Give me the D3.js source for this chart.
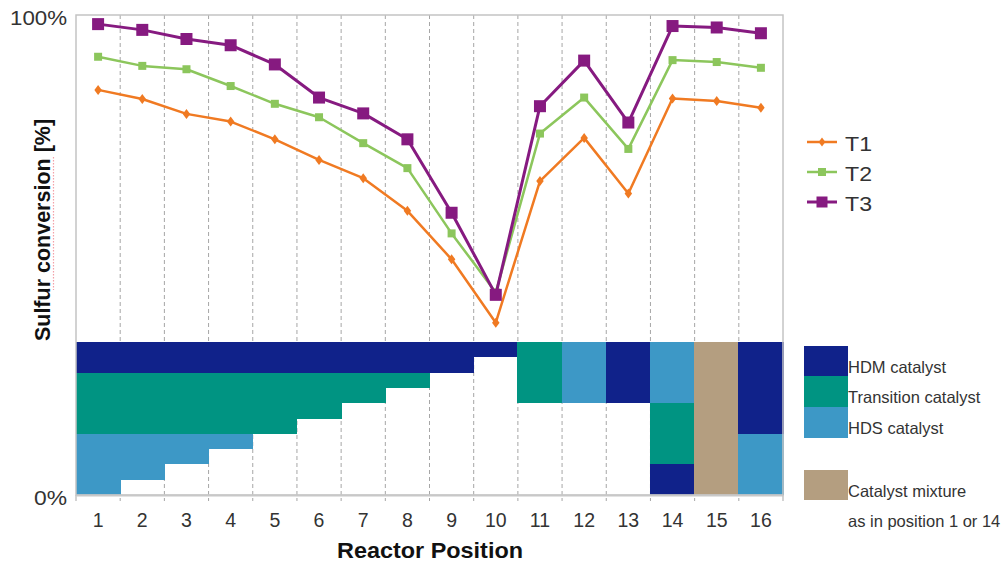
<!DOCTYPE html>
<html>
<head>
<meta charset="utf-8">
<script src="https://cdn.jsdelivr.net/npm/d3@7"></script>
<style>
  html, body { margin: 0; padding: 0; background: #fff; }
  svg { display: block; font-family: "Liberation Sans", Arial, sans-serif; }
</style>
</head>
<body>
<svg id="chart" width="1005" height="565"></svg>
<script>
// Reactor positions along the x axis
const positions = [1, 2, 3, 4, 5, 6, 7, 8, 9, 10, 11, 12, 13, 14, 15, 16];

// Sulfur conversion [%] per reactor position at three temperatures
const t1 = [84.4, 82.5, 79.4, 77.8, 74.1, 69.8, 66.0, 59.2, 49.1, 35.9, 65.4, 74.4, 62.8, 82.6, 82.1, 80.7];
const t2 = [91.3, 89.4, 88.7, 85.2, 81.5, 78.7, 73.3, 68.1, 54.5, 42.2, 75.3, 82.8, 72.1, 90.6, 90.2, 89.0];
const t3 = [98.1, 96.9, 95.0, 93.7, 89.7, 82.8, 79.5, 74.1, 58.8, 41.7, 81.0, 90.5, 77.6, 97.7, 97.4, 96.2];

const seriesNames = ["T1", "T2", "T3"];
const yTickLabels = ["0%", "100%"];

// Catalyst bed layers per position: [position, catalyst, bottom, top] in bed units (0 = reactor bottom, 5 = top)
const bedLayers = [
  [1, "HDS", 0, 2], [1, "Transition", 2, 4], [1, "HDM", 4, 5],
  [2, "HDS", 0.5, 2], [2, "Transition", 2, 4], [2, "HDM", 4, 5],
  [3, "HDS", 1, 2], [3, "Transition", 2, 4], [3, "HDM", 4, 5],
  [4, "HDS", 1.5, 2], [4, "Transition", 2, 4], [4, "HDM", 4, 5],
  [5, "Transition", 2, 4], [5, "HDM", 4, 5],
  [6, "Transition", 2.5, 4], [6, "HDM", 4, 5],
  [7, "Transition", 3, 4], [7, "HDM", 4, 5],
  [8, "Transition", 3.5, 4], [8, "HDM", 4, 5],
  [9, "HDM", 4, 5],
  [10, "HDM", 4.5, 5],
  [11, "Transition", 3, 5],
  [12, "HDS", 3, 5],
  [13, "HDM", 3, 5],
  [14, "HDM", 0, 1], [14, "Transition", 1, 3], [14, "HDS", 3, 5],
  [15, "Mixture", 0, 5],
  [16, "HDS", 0, 2], [16, "HDM", 2, 5]
];

const catalystNames = ["HDM", "Transition", "HDS", "Mixture"];
const catalystLabels = ["HDM catalyst", "Transition catalyst", "HDS catalyst", "Catalyst mixture"];

const svg = d3.select("#chart");

const plotLeft = 76, plotRight = 783, plotTop = 15, plotBottom = 495;

const x = d3.scaleBand().domain(positions).range([plotLeft, plotRight]).padding(0);
const y = d3.scaleLinear().domain([0, 100]).range([plotBottom, plotTop]);
const bedY = d3.scaleLinear().domain([0, 5]).range([plotBottom, 342]);

const lineColor = d3.scaleOrdinal().domain(seriesNames).range(["#f07a22", "#8cc65c", "#861a80"]);
const catColor = d3.scaleOrdinal().domain(catalystNames).range(["#10228a", "#009482", "#3d98c6", "#b49e80"]);

// Dashed vertical grid lines at position boundaries
const boundaries = positions.slice(1).map(p => x(p));
svg.append("g")
  .selectAll("line")
  .data(boundaries)
  .join("line")
  .attr("x1", d => d).attr("x2", d => d)
  .attr("y1", plotTop).attr("y2", plotBottom + 6)
  .attr("stroke", "#a6a6a6")
  .attr("stroke-width", 1)
  .attr("stroke-dasharray", "4,3");

// Catalyst bed layers (slightly overlapped so adjacent cells show no seams)
svg.append("g")
  .attr("shape-rendering", "crispEdges")
  .selectAll("rect")
  .data(bedLayers)
  .join("rect")
  .attr("x", d => x(d[0]) - 0.5)
  .attr("width", x.bandwidth() + 1)
  .attr("y", d => bedY(d[3]))
  .attr("height", d => bedY(d[2]) - bedY(d[3]))
  .attr("fill", d => catColor(d[1]));

// Plot frame
svg.append("rect")
  .attr("x", plotLeft).attr("y", plotTop)
  .attr("width", plotRight - plotLeft).attr("height", plotBottom - plotTop)
  .attr("fill", "none")
  .attr("stroke", "#c4c4c4")
  .attr("stroke-width", 1.5);

// Bottom axis
const xAxis = svg.append("g")
  .attr("transform", `translate(0,${plotBottom})`)
  .call(d3.axisBottom(x).tickSize(0).tickPadding(18));
xAxis.select(".domain").attr("stroke", "#c8c8c8").attr("stroke-width", 2);
xAxis.selectAll("text")
  .attr("font-size", 19.5)
  .attr("fill", "#333")
  .attr("font-family", "Liberation Sans, Arial, sans-serif");

// Outer edge ticks below the axis
svg.append("g")
  .selectAll("line")
  .data([plotLeft, plotRight])
  .join("line")
  .attr("x1", d => d).attr("x2", d => d)
  .attr("y1", plotBottom).attr("y2", plotBottom + 6)
  .attr("stroke", "#c4c4c4").attr("stroke-width", 1.5);

// Left axis labels
svg.append("g")
  .selectAll("text")
  .data([0, 100])
  .join("text")
  .attr("x", plotLeft - 9)
  .attr("y", d => y(d) + 10)
  .attr("text-anchor", "end")
  .attr("font-size", 20)
  .attr("fill", "#333")
  .attr("textLength", d => d === 0 ? 33 : 57)
  .attr("lengthAdjust", "spacingAndGlyphs")
  .text((d, i) => yTickLabels[i]);

// Axis titles
svg.append("text")
  .attr("x", 337).attr("y", 558)
  .attr("font-size", 22)
  .attr("font-weight", "bold")
  .attr("fill", "#111")
  .attr("textLength", 186)
  .attr("lengthAdjust", "spacingAndGlyphs")
  .text("Reactor Position");

svg.append("text")
  .attr("transform", "translate(50,230) rotate(-90)")
  .attr("text-anchor", "middle")
  .attr("font-size", 21.5)
  .attr("font-weight", "bold")
  .attr("fill", "#111")
  .text("Sulfur conversion [%]");

// Spell-check underline under "conversion"
svg.append("line")
  .attr("x1", 53.5).attr("x2", 53.5)
  .attr("y1", 157).attr("y2", 290)
  .attr("stroke", "#f2a0a8")
  .attr("stroke-width", 1.2)
  .attr("stroke-dasharray", "1.5,1.5");

// Conversion lines
const series = [
  { name: "T1", values: t1, width: 2.5, marker: "diamond", size: 10 },
  { name: "T2", values: t2, width: 2.5, marker: "square", size: 8 },
  { name: "T3", values: t3, width: 3, marker: "square", size: 12 }
];

const line = d3.line()
  .x((d, i) => x(positions[i]) + x.bandwidth() / 2)
  .y(d => y(d));

function drawMarker(g, s, cx, cy) {
  if (s.marker === "diamond") {
    const r = s.size / 2;
    g.append("path")
      .attr("d", `M${cx},${cy - r}L${cx + r * 0.75},${cy}L${cx},${cy + r}L${cx - r * 0.75},${cy}Z`)
      .attr("fill", lineColor(s.name));
  } else {
    g.append("rect")
      .attr("x", cx - s.size / 2).attr("y", cy - s.size / 2)
      .attr("width", s.size).attr("height", s.size)
      .attr("fill", lineColor(s.name));
  }
}

series.forEach(s => {
  const g = svg.append("g");
  g.append("path")
    .datum(s.values)
    .attr("d", line)
    .attr("fill", "none")
    .attr("stroke", lineColor(s.name))
    .attr("stroke-width", s.width)
    .attr("stroke-linejoin", "round");
  s.values.forEach((v, i) => {
    drawMarker(g, s, x(positions[i]) + x.bandwidth() / 2, y(v));
  });
});

// Series legend
const legendYs = [142, 172, 202];
series.forEach((s, i) => {
  const g = svg.append("g");
  g.append("line")
    .attr("x1", 807).attr("x2", 837)
    .attr("y1", legendYs[i]).attr("y2", legendYs[i])
    .attr("stroke", lineColor(s.name))
    .attr("stroke-width", s.width);
  drawMarker(g, { name: s.name, marker: s.marker, size: s.marker === "diamond" ? 9 : (s.name === "T3" ? 11 : 8) }, 822, legendYs[i]);
  g.append("text")
    .attr("x", 845).attr("y", legendYs[i] + 9)
    .attr("font-size", 21)
    .attr("fill", "#333")
    .attr("textLength", 27)
    .attr("lengthAdjust", "spacingAndGlyphs")
    .text(s.name);
});

// Catalyst legend
const swatchTops = [346, 376, 407, 470];
const swatchBottoms = [376, 407, 438, 500];
catalystNames.forEach((c, i) => {
  svg.append("rect")
    .attr("x", 804).attr("y", swatchTops[i])
    .attr("width", 44).attr("height", swatchBottoms[i] - swatchTops[i])
    .attr("fill", catColor(c));
});
const catTextYs = [373, 403, 434, 497];
catalystLabels.forEach((t, i) => {
  svg.append("text")
    .attr("x", 848).attr("y", catTextYs[i])
    .attr("font-size", 16.5)
    .attr("fill", "#333")
    .text(t);
});
svg.append("text")
  .attr("x", 848).attr("y", 527)
  .attr("font-size", 16.5)
  .attr("fill", "#333")
  .text("as in position 1 or 14");
</script>
</body>
</html>
